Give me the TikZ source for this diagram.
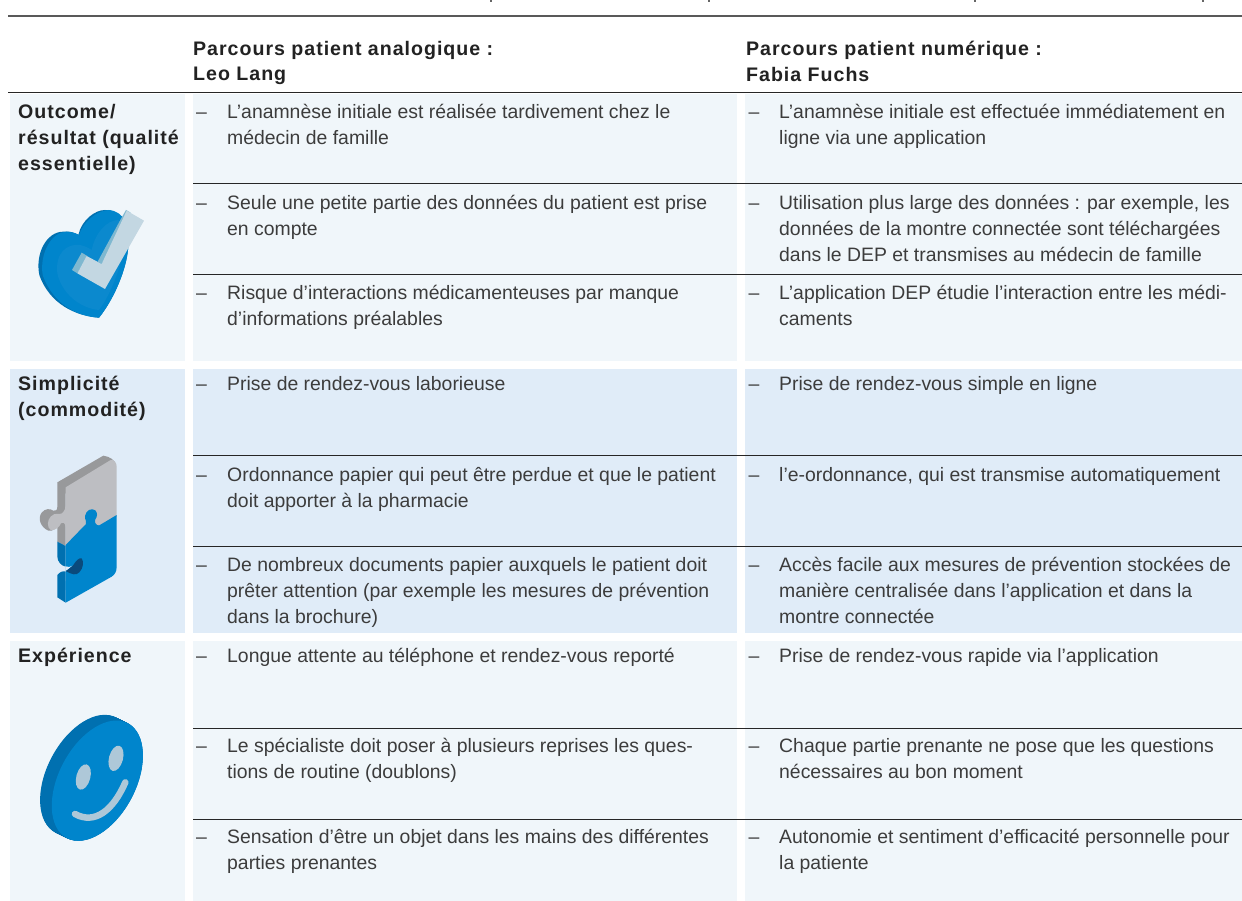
\documentclass[tikz,border=0pt]{standalone}
\usepackage{fontspec}
\setmainfont{Liberation Sans}
\newfontfamily\boldf[LetterSpace=5]{Liberation Sans}
\definecolor{lightbg}{HTML}{F0F6FA}
\definecolor{bluebg}{HTML}{E0ECF8}
\definecolor{txt}{HTML}{3C3C3C}
\definecolor{headtxt}{HTML}{222222}
\definecolor{iconblue}{HTML}{0085CC}
\definecolor{icondark}{HTML}{0070B0}
\definecolor{iconmid}{HTML}{0B89CE}
\definecolor{iconnavy}{HTML}{0A4A7C}
\definecolor{checklight}{HTML}{C3D7E2}
\definecolor{checkdark}{HTML}{7FB8D0}
\definecolor{puzzlelight}{HTML}{BDBEC2}
\definecolor{puzzledark}{HTML}{98999B}
\definecolor{smile}{HTML}{AEC8D8}
\newcommand{\firstline}{\rule{0pt}{14pt}}
\tikzset{
  x=1pt,y=-1pt,
  cellbg/.style={fill=#1,draw=none},
  sep/.style={draw=black!85,line width=0.8pt},
  item/.style={anchor=north west,inner sep=0pt,align=left,text=txt,font=\fontsize{19.4}{26}\selectfont},
  dashmark/.style={anchor=north west,inner sep=0pt,text=txt,font=\fontsize{19.4}{26}\selectfont},
  head/.style={anchor=north west,inner sep=0pt,align=left,text=headtxt,font=\fontsize{19.6}{25.5}\boldf\bfseries},
  rowhead/.style={anchor=north west,inner sep=0pt,align=left,text=headtxt,font=\fontsize{19.6}{26}\boldf\bfseries},
  icon/.style={x=0.33333pt,y=-0.33333pt},
}
\newcommand{\cellitem}[5]{% name, dash x, text x, first baseline, text
  \node[dashmark] (#1d) at (#2,#4-13.5) {\firstline–};
  \node[item] (#1) at (#3,#4-13.5) {\firstline #5};
}
\begin{document}
\begin{tikzpicture}
\useasboundingbox (0,0) rectangle (1242,901);
\fill[white] (0,0) rectangle (1242,901);
% top rule and clipped descenders
\draw[draw=black!65,line width=2.4pt] (8,16) -- (1242,16);
\foreach \tx in {491,709,975,1203}{\fill[black!60] (\tx-0.6,0) rectangle (\tx+0.6,2.4);}
% backgrounds
\foreach \ya/\yb/\c in {94/361/lightbg,369/633/bluebg,641/901/lightbg}{
  \fill[cellbg=\c] (10,\ya) rectangle (185,\yb);
  \fill[cellbg=\c] (193,\ya) rectangle (737,\yb);
  \fill[cellbg=\c] (745,\ya) rectangle (1242,\yb);
}
\draw[draw=black!85,line width=1pt] (8,92.5) -- (1242,92.5);
\foreach \ys in {183,274,455,546,728,819}{\draw[sep] (193,\ys) -- (1242,\ys);}
% headers
\node[head] (h1) at (193,55-14) {\firstline Parcours patient analogique :\\Leo Lang};
\node[head] (h2) at (746,55-14) {\firstline Parcours patient numérique :\\Fabia Fuchs};
\node[rowhead] (r1) at (18,118-14) {\firstline Outcome/\\résultat (qualité\\essentielle)};
\node[rowhead] (r2) at (18,390-14) {\firstline Simplicité\\(commodité)};
\node[rowhead] (r3) at (18,662-14) {\firstline Expérience};
% column 2
\cellitem{a1}{196}{227}{118}{L’anamnèse initiale est réalisée tardivement chez le\\médecin de famille}
\cellitem{a2}{196}{227}{209}{Seule une petite partie des données du patient est prise\\en compte}
\cellitem{a3}{196}{227}{299}{Risque d’interactions médicamenteuses par manque\\d’informations préalables}
\cellitem{a4}{196}{227}{390}{Prise de rendez-vous laborieuse}
\cellitem{a5}{196}{227}{481}{Ordonnance papier qui peut être perdue et que le patient\\doit apporter à la pharmacie}
\cellitem{a6}{196}{227}{571}{De nombreux documents papier auxquels le patient doit\\prêter attention (par exemple les mesures de prévention\\dans la brochure)}
\cellitem{a7}{196}{227}{662}{Longue attente au téléphone et rendez-vous reporté}
\cellitem{a8}{196}{227}{752}{Le spécialiste doit poser à plusieurs reprises les ques-\\tions de routine (doublons)}
\cellitem{a9}{196}{227}{843}{Sensation d’être un objet dans les mains des différentes\\parties prenantes}
% column 3
\cellitem{b1}{748.5}{779}{118}{L’anamnèse initiale est effectuée immédiatement en\\ligne via une application}
\cellitem{b2}{748.5}{779}{209}{Utilisation plus large des données : par exemple, les\\données de la montre connectée sont téléchargées\\dans le DEP et transmises au médecin de famille}
\cellitem{b3}{748.5}{779}{299}{L’application DEP étudie l’interaction entre les médi-\\caments}
\cellitem{b4}{748.5}{779}{390}{Prise de rendez-vous simple en ligne}
\cellitem{b5}{748.5}{779}{481}{l’e-ordonnance, qui est transmise automatiquement}
\cellitem{b6}{748.5}{779}{571}{Accès facile aux mesures de prévention stockées de\\manière centralisée dans l’application et dans la\\montre connectée}
\cellitem{b7}{748.5}{779}{662}{Prise de rendez-vous rapide via l’application}
\cellitem{b8}{748.5}{779}{752}{Chaque partie prenante ne pose que les questions\\nécessaires au bon moment}
\cellitem{b9}{748.5}{779}{843}{Autonomie et sentiment d’efficacité personnelle pour\\la patiente}
% heart
\begin{scope}[shift={(0,190)},icon]
\fill[icondark] (297,383) .. controls (230,378) and (150,345) .. (118,255) .. controls (105,190) and (140,125) .. (190,125) .. controls (210,123) and (225,128) .. (235,135) .. controls (245,90) and (285,60) .. (315,60) .. controls (365,60) and (390,110) .. (385,170) .. controls (380,240) and (340,330) .. (297,383) -- cycle;
\fill[iconblue] (297,383) .. controls (235,380) and (160,345) .. (128,255) .. controls (118,190) and (155,125) .. (200,125) .. controls (218,126) and (228,130) .. (237,135) .. controls (250,95) and (290,62) .. (325,60) .. controls (372,62) and (392,110) .. (385,170) .. controls (380,240) and (340,330) .. (297,383) -- cycle;
\fill[iconmid] (297,360) .. controls (240,355) and (185,310) .. (172,250) .. controls (165,190) and (200,160) .. (240,165) .. controls (255,168) and (268,175) .. (275,180) .. controls (285,130) and (320,90) .. (355,90) .. controls (375,100) and (375,150) .. (370,190) .. controls (350,270) and (320,330) .. (297,360) -- cycle;
\fill[checkdark] (362,88) -- (378,60) -- (392,68) -- (305,222) -- (293,215) -- cycle;
\fill[checkdark] (245,188) -- (262,198) -- (232,250) -- (216,240) -- cycle;
\fill[checklight] (380,62) -- (432,92) -- (315,297) -- (232,250) -- (260,198) -- (305,222) -- cycle;
\end{scope}
% puzzle
\begin{scope}[shift={(0,440)},icon]
\fill[puzzledark] (172,127) -- (310,47) .. controls (330,50) and (345,60) .. (348,75) -- (197,160) -- (197,318) -- (172,305) -- (172,250) .. controls (172,265) and (160,274) .. (145,272) .. controls (122,262) and (112,235) .. (125,218) .. controls (135,205) and (150,205) .. (160,212) .. controls (168,214) and (172,210) .. (172,200) -- cycle;
\fill[puzzlelight] (197,142) -- (332,60) .. controls (342,58) and (350,68) .. (350,80) -- (350,230) -- (197,318) -- (197,262) .. controls (196,250) and (190,245) .. (183,250) .. controls (178,262) and (165,272) .. (152,270) .. controls (140,262) and (142,240) .. (152,230) .. controls (165,215) and (180,225) .. (186,220) .. controls (194,212) and (197,205) .. (197,195) -- cycle;
\fill[icondark] (172,305) -- (197,318) -- (197,380) .. controls (185,378) and (172,365) .. (172,350) -- cycle;
\fill[icondark] (172,405) .. controls (180,395) and (190,392) .. (197,395) -- (197,488) -- (172,472) -- cycle;
\fill[iconblue] (350,225) -- (298,256) .. controls (290,258) and (283,248) .. (285,240) .. controls (292,230) and (294,220) .. (286,211) .. controls (275,203) and (258,210) .. (255,228) .. controls (254,240) and (262,245) .. (258,252) -- (197,315) -- (197,488) -- (335,410) .. controls (345,403) and (350,395) .. (350,380) -- cycle;
\fill[bluebg] (196,379) .. controls (205,382) and (212,382) .. (217,377) -- (196,394) -- cycle;
\fill[iconnavy] (197,393) .. controls (205,390) and (215,380) .. (220,375) .. controls (228,362) and (238,352) .. (245,355) .. controls (252,365) and (250,385) .. (238,397) .. controls (228,408) and (215,403) .. (197,393) -- cycle;
\fill[iconblue] (197,425) .. controls (200,410) and (212,400) .. (225,405) .. controls (235,408) and (242,398) .. (250,380) -- (255,420) -- (197,450) -- cycle;
\end{scope}
% smiley
\begin{scope}[shift={(0,700)},icon]
\foreach \k in {0,0.05,...,1.01}{
  \fill[icondark] ({257+35*\k},{225+17*\k}) ellipse [x radius=115*0.33333pt,y radius=195*0.33333pt,rotate=-28];
}
\fill[iconblue] (292,242) ellipse [x radius=115*0.33333pt,y radius=195*0.33333pt,rotate=-28];
\fill[smile] (250,231) ellipse [x radius=21*0.33333pt,y radius=39*0.33333pt,rotate=-15];
\fill[smile] (348,175) ellipse [x radius=21*0.33333pt,y radius=39*0.33333pt,rotate=-15];
\draw[smile,line width=6.5pt,line cap=round] (225,342) .. controls (285,375) and (340,330) .. (376,247);
\end{scope}
\end{tikzpicture}
\end{document}
